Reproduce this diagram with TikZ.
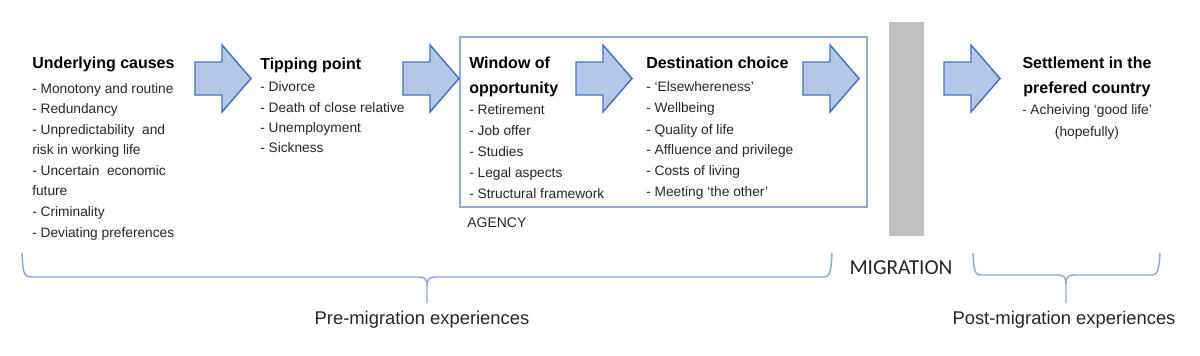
\documentclass[tikz,border=0pt]{standalone}
\usepackage{fontspec}
\setmainfont{Liberation Sans}
\newfontfamily\calibri{Carlito}
\definecolor{arrowfill}{RGB}{180,199,231}
\definecolor{arrowline}{RGB}{68,114,196}
\definecolor{boxline}{RGB}{143,170,220}
\definecolor{barfill}{RGB}{191,191,191}
\definecolor{txt}{RGB}{38,38,38}
\tikzset{
  bigarrow/.pic={\draw[fill=arrowfill,draw=arrowline,line width=1.1pt,line join=miter]
     (0,-16.5) -- (27,-16.5) -- (27,-33.5) -- (56,0) -- (27,33.5) -- (27,16.5) -- (0,16.5) -- cycle;},
  ttl/.style={anchor=base west,inner sep=0pt,align=left,font=\fontsize{12}{18.75}\selectfont\bfseries,text=black},
  body/.style={anchor=base west,inner sep=0pt,align=left,text=txt,font=\fontsize{10.3}{#1}\selectfont},
  brace/.style={draw=boxline,line width=1.1pt},
  lbl/.style={inner sep=0pt,text=txt,font=\fontsize{13.8}{16}\selectfont}
}
\begin{document}
\begin{tikzpicture}[x=0.75pt,y=-0.75pt]
\useasboundingbox (0,0) rectangle (1200,356);
% agency box and migration bar
\draw[boxline,line width=1.2pt] (460,37) rectangle (867,207);
\fill[barfill] (889,22) rectangle (924,236);
% block arrows
\pic at (195,78.5) {bigarrow};
\pic at (403,78.5) {bigarrow};
\pic at (576,78.5) {bigarrow};
\pic at (803,78.5) {bigarrow};
\pic at (944,78.5) {bigarrow};
% texts (base anchor = baseline of the last line)
\node[ttl] (t1) at (32,69) {Underlying causes};
\node[body=15.45pt] (b1) at (32,237.2) {- Monotony and routine\\- Redundancy\\- Unpredictability \ and\\risk in working life\\- Uncertain \ economic\\future\\- Criminality\\- Deviating preferences};
\node[ttl] (t2) at (260,70) {Tipping point};
\node[body=15.2pt] (b2) at (260,152.8) {- Divorce\\- Death of close relative\\- Unemployment\\- Sickness};
\node[ttl] (t3) at (469,94) {Window of\\opportunity};
\node[body=15.75pt] (b3) at (469,199) {- Retirement\\- Job offer\\- Studies\\- Legal aspects\\- Structural framework};
\node[ttl] (t4) at (646,69) {Destination choice};
\node[body=15.75pt] (b4) at (646,197) {- ‘Elsewhereness’\\- Wellbeing\\- Quality of life\\- Affluence and privilege\\- Costs of living\\- Meeting ‘the other’};
\node[ttl,anchor=base,align=center] (t5) at (1087,94) {Settlement in the\\prefered country};
\node[body=16.5pt,anchor=base,align=center] (b5) at (1087,137) {- Acheiving ‘good life’\\(hopefully)};
\node[anchor=base west,inner sep=0pt,text=txt,font=\fontsize{10.5}{12}\selectfont] (agency) at (467,228) {AGENCY};
\node[inner sep=0pt,text=txt,font=\calibri\fontsize{16}{18}\selectfont] (mig) at (901,268) {MIGRATION};
% braces
\draw[brace] (22,253) .. controls (23,272) and (23,277) .. (32,277) -- (418,277)
  .. controls (425,277) and (427,279) .. (427,286) -- (427,303);
\draw[brace] (427,286) .. controls (427,279) and (429,277) .. (436,277) -- (823,277)
  .. controls (830,277) and (831,272) .. (832,253);
\draw[brace] (973,253) .. controls (974,270) and (974,275) .. (982,275) -- (1057,275)
  .. controls (1064,275) and (1066,277) .. (1066,284) -- (1066,303);
\draw[brace] (1066,284) .. controls (1066,277) and (1068,275) .. (1075,275) -- (1151,275)
  .. controls (1158,275) and (1159,270) .. (1160,253);
\node[lbl] (pre) at (422,320) {Pre-migration experiences};
\node[lbl] (post) at (1064,320) {Post-migration experiences};
\end{tikzpicture}
\end{document}
